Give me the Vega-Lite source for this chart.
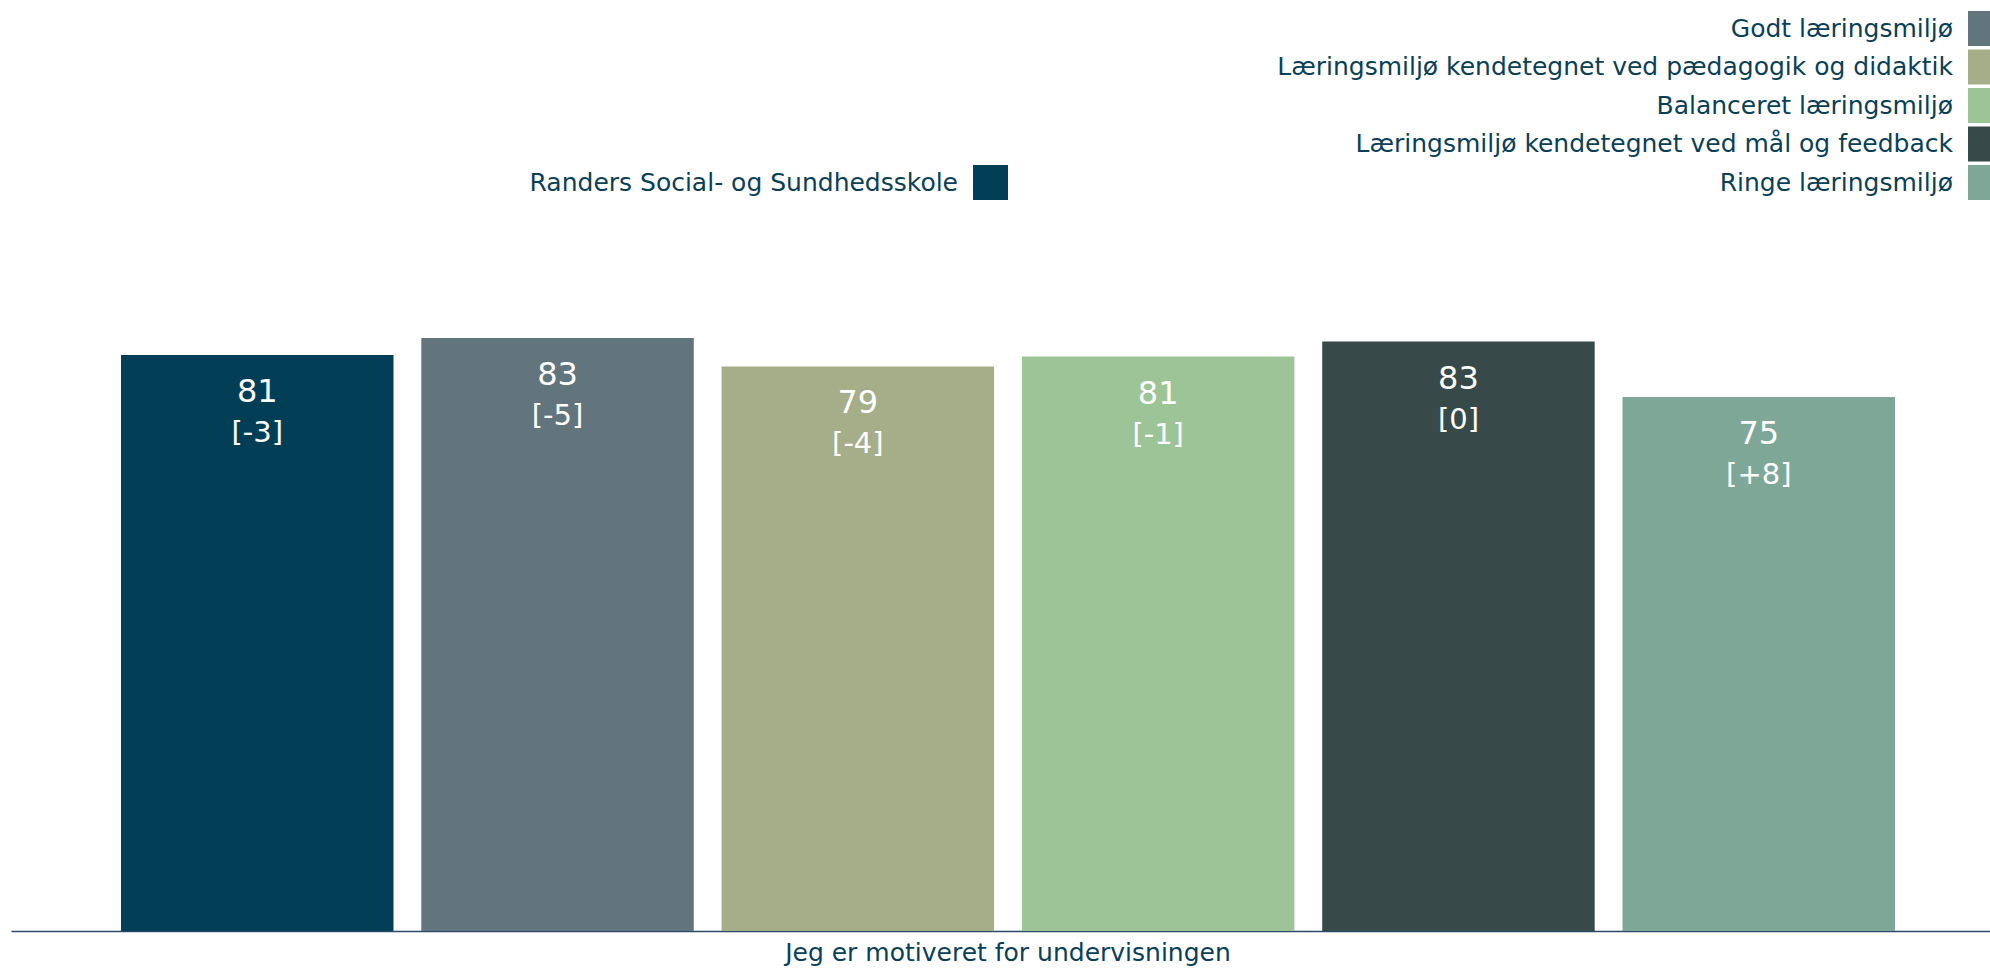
{
  "$schema": "https://vega.github.io/schema/vega-lite/v6.json",
  "width": 1979,
  "height": 711,
  "autosize": {"type": "none"},
  "padding": {"left": 11, "top": 220, "right": 0, "bottom": 41},
  "background": "white",
  "config": {"view": {"stroke": null}, "font": "DejaVu Sans"},
  "data": {
    "values": [
      {"question": "Jeg er motiveret for undervisningen", "series": "Randers Social- og Sundhedsskole", "value": 81.0, "change": "[-3]"},
      {"question": "Jeg er motiveret for undervisningen", "series": "Godt læringsmiljø", "value": 83.4, "change": "[-5]"},
      {"question": "Jeg er motiveret for undervisningen", "series": "Læringsmiljø kendetegnet ved pædagogik og didaktik", "value": 79.4, "change": "[-4]"},
      {"question": "Jeg er motiveret for undervisningen", "series": "Balanceret læringsmiljø", "value": 80.8, "change": "[-1]"},
      {"question": "Jeg er motiveret for undervisningen", "series": "Læringsmiljø kendetegnet ved mål og feedback", "value": 82.9, "change": "[0]"},
      {"question": "Jeg er motiveret for undervisningen", "series": "Ringe læringsmiljø", "value": 75.1, "change": "[+8]"}
    ]
  },
  "encoding": {
    "x": {
      "field": "question",
      "type": "nominal",
      "scale": {"paddingInner": 0, "paddingOuter": 0.04917, "align": 0.5423},
      "axis": {
        "title": null,
        "labelAngle": 0,
        "ticks": false,
        "domain": true,
        "domainColor": "#2E4A6A",
        "domainWidth": 1.5,
        "labelFontSize": 25,
        "labelColor": "#0A3F57",
        "labelPadding": 9,
        "labelLimit": 1000
      }
    },
    "xOffset": {
      "field": "series",
      "type": "nominal",
      "scale": {
        "domain": [
          "Randers Social- og Sundhedsskole",
          "Godt læringsmiljø",
          "Læringsmiljø kendetegnet ved pædagogik og didaktik",
          "Balanceret læringsmiljø",
          "Læringsmiljø kendetegnet ved mål og feedback",
          "Ringe læringsmiljø"
        ],
        "paddingInner": 0.0926,
        "paddingOuter": 0.0463
      }
    },
    "y": {
      "field": "value",
      "type": "quantitative",
      "scale": {"domain": [0, 100], "nice": false, "zero": true},
      "axis": null
    }
  },
  "layer": [
    {
      "transform": [{"filter": "datum.series === 'Randers Social- og Sundhedsskole'"}],
      "mark": {"type": "bar"},
      "encoding": {
        "color": {
          "field": "series",
          "type": "nominal",
          "scale": {"domain": ["Randers Social- og Sundhedsskole"], "range": ["#023F57"]},
          "legend": {
            "orient": "none",
            "legendX": 962,
            "legendY": -55,
            "title": null,
            "symbolType": "square",
            "symbolSize": 1225,
            "symbolStrokeWidth": 0,
            "labelAlign": "right",
            "labelOffset": -50,
            "labelFontSize": 25,
            "labelColor": "#0A3F57",
            "labelLimit": 1000
          }
        }
      }
    },
    {
      "transform": [{"filter": "datum.series !== 'Randers Social- og Sundhedsskole'"}],
      "mark": {"type": "bar"},
      "encoding": {
        "fill": {
          "field": "series",
          "type": "nominal",
          "scale": {
            "domain": [
              "Godt læringsmiljø",
              "Læringsmiljø kendetegnet ved pædagogik og didaktik",
              "Balanceret læringsmiljø",
              "Læringsmiljø kendetegnet ved mål og feedback",
              "Ringe læringsmiljø"
            ],
            "range": ["#62757C", "#A6AE89", "#9DC496", "#38494A", "#7FA798"]
          },
          "legend": {
            "orient": "none",
            "legendX": 1957,
            "legendY": -209,
            "title": null,
            "rowPadding": 3.5,
            "symbolType": "square",
            "symbolSize": 1225,
            "symbolStrokeWidth": 0,
            "labelAlign": "right",
            "labelOffset": -50,
            "labelFontSize": 25,
            "labelColor": "#0A3F57",
            "labelLimit": 1000
          }
        }
      }
    },
    {
      "mark": {"type": "text", "dy": 37, "fontSize": 32, "color": "white", "baseline": "middle"},
      "encoding": {"text": {"field": "value", "type": "quantitative", "format": ".0f"}}
    },
    {
      "mark": {"type": "text", "dy": 78, "fontSize": 29, "color": "white", "baseline": "middle"},
      "encoding": {"text": {"field": "change", "type": "nominal"}}
    }
  ]
}
